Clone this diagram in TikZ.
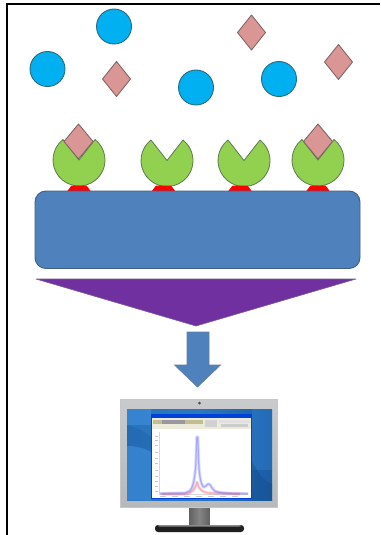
\documentclass[tikz,border=0pt]{standalone}
\definecolor{ballblue}{HTML}{00B0F0}
\definecolor{balledge}{HTML}{2A6A80}
\definecolor{rosefill}{HTML}{D99694}
\definecolor{roseedge}{HTML}{7D6665}
\definecolor{leaf}{HTML}{92D050}
\definecolor{leafedge}{HTML}{5E7A50}
\definecolor{slab}{HTML}{4F81BD}
\definecolor{slabedge}{HTML}{3F5F85}
\definecolor{funnel}{HTML}{7030A0}
\definecolor{deskA}{HTML}{3F8FDC}
\definecolor{deskB}{HTML}{2A74BE}
\definecolor{deskC}{HTML}{1A5CA6}
\definecolor{silver}{HTML}{C8CACC}
\definecolor{silverlow}{HTML}{B6B8BA}
\definecolor{chrome}{HTML}{ECEAD8}
\tikzset{
  ball/.style={circle,draw=balledge,fill=ballblue,line width=0.9pt,inner sep=0pt,minimum size=35pt},
  kite/.style={draw=roseedge,fill=rosefill,line width=0.9pt,line join=round},
  pac/.style={draw=leafedge,fill=leaf,line width=0.8pt,line join=round},
  foot/.style={fill=red,rounded corners=0.6pt},
}
\begin{document}
\begin{tikzpicture}[x=1pt,y=-1pt]
\useasboundingbox (0,0) rectangle (380,535);
\fill[white] (0,0) rectangle (380,535);

% outer frame: top and left edges only
\draw[black,line width=1.5pt] (7,535) -- (7,4) -- (380,4);

% free analytes
\node[ball] (b1) at (114,26.5) {};
\node[ball] (b2) at (47.5,69) {};
\node[ball] (b3) at (196,87.5) {};
\node[ball] (b4) at (279,79) {};
\foreach \cx/\cy in {116.5/79,251.5/32.5,338.5/62}{
  \draw[kite] (\cx-14,\cy) -- (\cx,\cy-17.5) -- (\cx+14,\cy) -- (\cx,\cy+17.5) -- cycle;}

% receptors: disc with a wedge cut out
\foreach \cx/\cy in {79/160,167/160.5,244/160.5,318/160}{
  \draw[pac] (\cx,\cy) -- ++(232:26) arc[start angle=232,end angle=-52,radius=26] -- cycle;
}

% anchoring feet
\foreach \fx in {79,163.5,240,318}{
  \fill[foot] (\fx-12,191.5) -- (\fx-7.5,185.5) -- (\fx+7.5,185.5) -- (\fx+12,191.5) -- cycle;
}

% bound analytes seated in the first and last receptors
\foreach \cx/\cy in {78.5/141.5,318/141.5}{
  \draw[kite] (\cx-14.5,\cy) -- (\cx,\cy-17.5) -- (\cx+14.5,\cy) -- (\cx,\cy+17.5) -- cycle;}

% sensor slab
\draw[draw=slabedge,fill=slab,line width=0.9pt,rounded corners=11pt] (35,191) rectangle (360,268.5);

% funnel and arrow
\path[draw=black!45!funnel!70,fill=funnel,line width=0.6pt,line join=round]
  (36,279) -- (356,279) -- (196,326) -- cycle;
\path[draw=slabedge!80,fill=slab,line width=0.7pt,line join=miter]
  (187,332) -- (209,332) -- (209,365) -- (220.5,365) -- (197.5,387) -- (174.5,365) -- (187,365) -- cycle;

% monitor stand
\shade[left color=black!62,right color=black!62,middle color=black!48] (189,505) rectangle (209.5,525.5);
\fill[black!88,rounded corners=3pt] (155,525) rectangle (244,532);
\fill[black!45,rounded corners=1.5pt] (158,525) rectangle (241,526.5);

% monitor casing and desktop
\shade[top color=silver,bottom color=silverlow,draw=black!22,line width=0.5pt] (120.5,399.5) rectangle (277.5,507);
\shade[left color=deskB,right color=deskC,middle color=deskB!90!deskA] (127,409) rectangle (272,500.5);
\fill[deskA,opacity=0.6] (127,409) rectangle (151,425);
\fill[deskC,opacity=0.35] (127,425) .. controls (138,428) and (147,433) .. (151,437) -- (151,452) .. controls (145,448) and (135,446) .. (127,446) -- cycle;
\fill[deskA,opacity=0.5] (127,446) .. controls (135,446) and (145,448) .. (151,452) -- (151,500.5) -- (127,500.5) -- cycle;
\fill[deskA,opacity=0.3] (252,409) rectangle (272,470);
\fill[deskC!80!black,opacity=0.4] (252,462) .. controls (260,476) and (266,482) .. (272,484) -- (272,500.5) -- (252,500.5) -- cycle;
\fill[black!70] (199.5,403) circle[radius=1.5pt];

% application window with the spectrum
\fill[blue!70!cyan!85!black] (150.5,413.5) rectangle (252,499);
\fill[white] (152,418) rectangle (250.5,498);
\fill[chrome] (152,418) rectangle (250.5,429);
\fill[olive!55!gray,opacity=0.45] (153,419.5) rectangle (203,424);
\fill[blue!50!gray,opacity=0.3] (162,420) rectangle (185,423.5);
\fill[black!18] (205,420) rectangle (217,427);
\fill[black!12] (219,420) rectangle (250,423);
\fill[black!20] (221,424) rectangle (248,426.5);
% axes ticks along the left and bottom of the plot
\foreach \ty in {436,440,445,452,458,463,470,476,481,486,491}{
  \fill[black!22] (155,\ty) rectangle (158,\ty+1);}
\foreach \tx in {160,172,184,196,208,220,232}{
  \fill[black!20] (\tx,495.5) rectangle (\tx+6,497);}
\draw[black!15,line width=0.4pt] (159,432) -- (159,494) -- (248,494);
% spectrum traces, broad pale stroke beneath a fine core
\foreach \w/\o in {3.4/0.12,2.2/0.18,1/0.28}{
  \draw[blue!70,line width=\w pt,opacity=\o,line join=round]
    (160,493.5) -- (185,493) .. controls (192,492) and (194,486) .. (195.8,465)
    -- (196.8,437) -- (197.8,437) -- (198.8,465) .. controls (200,484) and (203,490) .. (206,486)
    .. controls (208,483) and (210,483) .. (212,488) .. controls (214,493) and (222,493.5) .. (248,493.5);
  \draw[magenta!40!red!70,line width=\w pt,opacity=\o,line join=round]
    (162,494) -- (186,494) .. controls (192,493) and (195,490) .. (197,482)
    .. controls (199,490) and (202,492.5) .. (210,493) -- (240,494);
}
\end{tikzpicture}
\end{document}
